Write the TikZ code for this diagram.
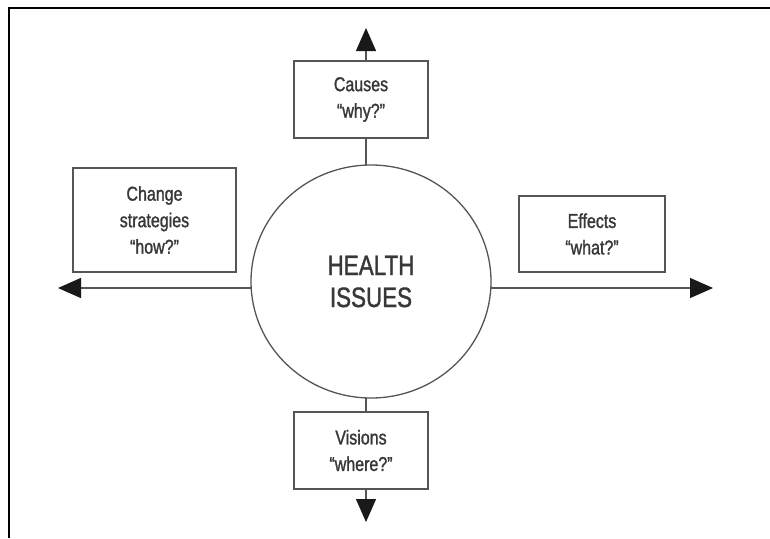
\documentclass[tikz,border=0pt]{standalone}
\usepackage{fontspec}
\setmainfont[FakeStretch=0.8,FakeBold=1.3]{Liberation Sans}
\usetikzlibrary{arrows.meta,backgrounds,shapes.geometric}
\definecolor{linegray}{HTML}{555555}
\definecolor{txtgray}{HTML}{383838}
\begin{document}
\begin{tikzpicture}[x=1pt,y=-1pt,
  boxnode/.style={draw=linegray,line width=1.3pt,fill=white,text=txtgray,align=center,inner sep=0pt,font=\fontsize{20}{26.5}\selectfont},
  axisline/.style={draw=linegray,line width=1.3pt},
  tipped/.style={-{Triangle[length=23pt,width=20pt,color=black!90]}}]
\useasboundingbox (0,0) rectangle (770,538);
\draw[line width=2.8pt] (9,538) -- (9,8) -- (770,8);
% axes ends
\coordinate (ttip) at (366,28);
\coordinate (btip) at (366,522);
\coordinate (ltip) at (58,288);
\coordinate (rtip) at (713,288);
\coordinate (axc) at (366,288);
% nodes
\node[boxnode,minimum width=134pt,minimum height=77pt] (causes) at (361,99.5) {Causes\\“why?”};
\node[boxnode,minimum width=134pt,minimum height=77pt] (visions) at (361,450.5) {Visions\\“where?”};
\node[boxnode,minimum width=163pt,minimum height=104pt] (change) at (154.5,220) {Change\\strategies\\“how?”};
\node[boxnode,minimum width=146pt,minimum height=76pt] (effects) at (592,234) {Effects\\“what?”};
\node[ellipse,draw=linegray,line width=1.3pt,fill=white,text=txtgray,align=center,inner sep=0pt,
      minimum width=240pt,minimum height=233pt,font=\fontsize{28}{32}\selectfont] (issues) at (371,281.5) {HEALTH\\ISSUES};
\begin{scope}[on background layer]
\draw[axisline,tipped] (axc) -- (ttip);
\draw[axisline,tipped] (axc) -- (btip);
\draw[axisline,tipped] (axc) -- (ltip);
\draw[axisline,tipped] (axc) -- (rtip);
\end{scope}
\end{tikzpicture}
\end{document}
